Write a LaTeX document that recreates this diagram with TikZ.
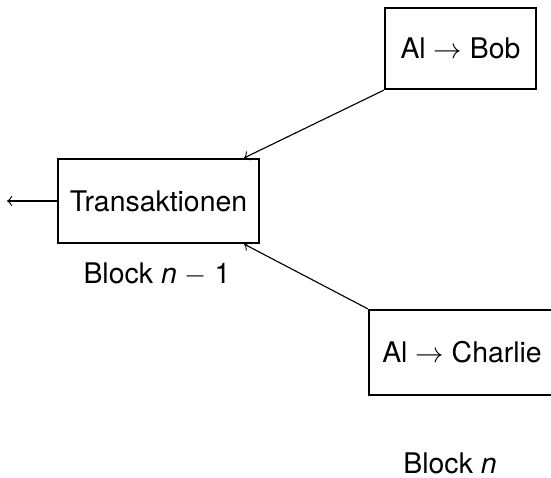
\documentclass[tikz,border=0pt]{standalone}
\usepackage{fontspec}
\setmainfont{TeX Gyre Heros}
\begin{document}
\begin{tikzpicture}[x=0.352pt,y=-0.352pt,
  box/.style={draw,line width=0.8pt,inner sep=0pt,anchor=center,font=\fontsize{10}{12}\selectfont},
  lbl/.style={inner sep=0pt,anchor=center,font=\fontsize{10}{12}\selectfont},
  conn/.style={->,line width=0.4pt}]
\useasboundingbox (0,0) rectangle (551,477);
\node[box,minimum width=70.75pt,minimum height=29.57pt] (trans) at (158.5,201) {Transaktionen};
\node[box,minimum width=53.15pt,minimum height=28.51pt] (bob) at (460.5,48.5) {Al $\rightarrow$ Bob};
\node[box,minimum width=65.47pt,minimum height=29.92pt] (charlie) at (462,352.5) {Al $\rightarrow$ Charlie};
\node[lbl] (bl1) at (157,274) {Block \textit{n} $-$ 1};
\node[lbl] (bl2) at (450,463.5) {Block \textit{n}};
\coordinate (out) at (7,201);
\draw[conn] (trans.west) -- (out);
\draw[conn] (bob.south west) -- ([xshift=-5.6pt]trans.north east);
\draw[conn] (charlie.north west) -- ([xshift=-5.6pt]trans.south east);
\end{tikzpicture}
\end{document}
